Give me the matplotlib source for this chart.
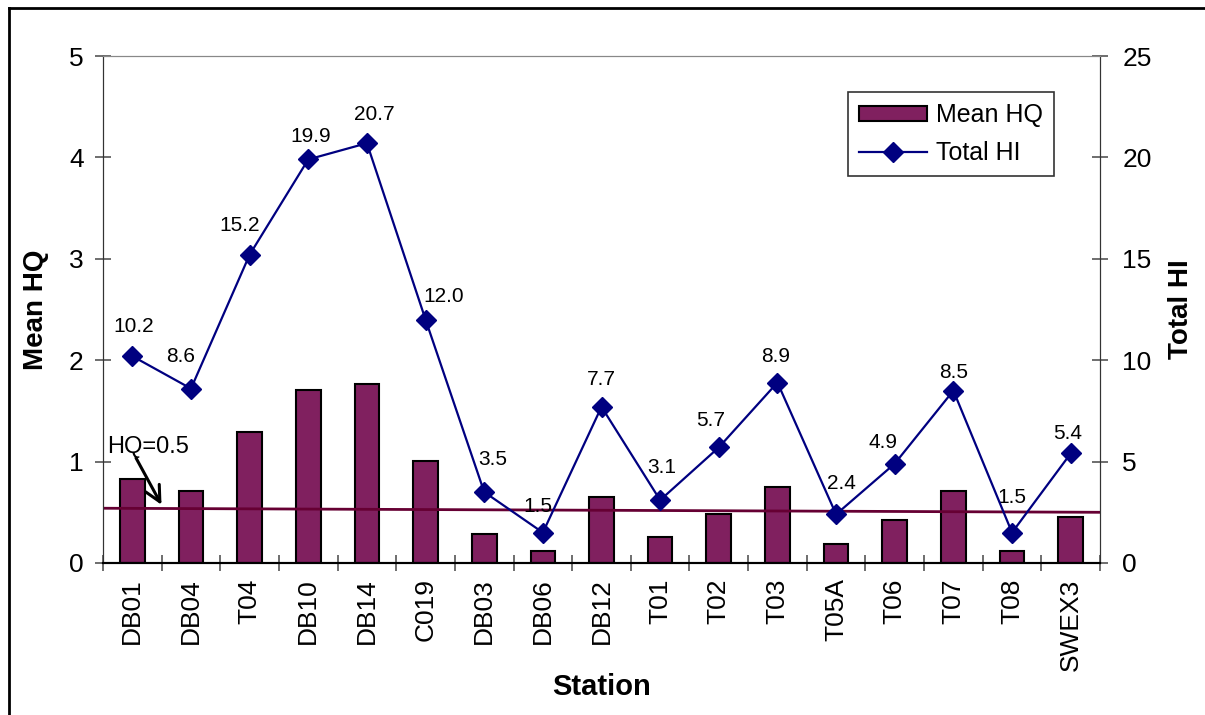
import numpy as np
import matplotlib.pyplot as plt
from matplotlib.lines import Line2D
from matplotlib.patches import Patch

plt.rcParams['font.family'] = ['Liberation Sans', 'DejaVu Sans']

# stations, mean hazard quotient (bars) and total hazard index (line)
stations = ["DB01", "DB04", "T04", "DB10", "DB14", "C019", "DB03", "DB06", "DB12",
            "T01", "T02", "T03", "T05A", "T06", "T07", "T08", "SWEX3"]
mean_hq = [0.83, 0.71, 1.29, 1.71, 1.77, 1.01, 0.29, 0.12, 0.65,
           0.26, 0.48, 0.75, 0.19, 0.42, 0.71, 0.12, 0.45]
total_hi = [10.2, 8.6, 15.2, 19.9, 20.7, 12.0, 3.5, 1.5, 7.7,
            3.1, 5.7, 8.9, 2.4, 4.9, 8.5, 1.5, 5.4]
hq_ref = [0.54, 0.50]   # reference line, left end / right end

# label nudges in pixels (dx, dy) above each marker
lbl_off = [(1, 30), (-10, 32), (-10, 29), (2, 23), (7, 29), (18, 23), (9, 33),
           (-5, 26), (0, 27), (2, 33), (-8, 27), (-2, 26), (5, 31), (-12, 21),
           (0, 18), (0, 35), (-3, 20)]

bar_col = '#80205F'
line_col = '#000080'

fig = plt.figure(figsize=(12.05, 7.15), dpi=100)
ax = fig.add_axes([103/1205, 1-563/715, 997/1205, 507/715])
ax2 = ax.twinx()

x = np.arange(len(stations))
ax.bar(x, mean_hq, width=0.42, color=bar_col, edgecolor='black', linewidth=1.5, zorder=2)
ax.plot([-0.5, len(stations)-0.5], hq_ref, color='#660033', lw=2, zorder=3)

ax2.plot(x, total_hi, color=line_col, lw=1.6, marker='D', markersize=10, zorder=4)
for i, v in enumerate(total_hi):
    ax2.annotate(f"{v:.1f}", (x[i], v), xytext=lbl_off[i], textcoords='offset pixels',
                 ha='center', va='center', fontsize=15)

ax.set_xlim(-0.5, len(stations)-0.5)
ax.set_ylim(0, 5)
ax2.set_ylim(0, 25)
ax.set_yticks(range(6))
ax2.set_yticks(range(0, 26, 5))

ax.set_xticks(x)
ax.set_xticklabels(stations, rotation=90, fontsize=19)
ax.set_xticks(np.arange(-0.5, len(stations), 1), minor=True)
ax.tick_params(axis='x', which='major', length=0, pad=11)
ax.tick_params(axis='x', which='minor', direction='inout', length=11, color='#555555', width=1.2)
ax.tick_params(axis='y', direction='inout', length=12, color='#555555', width=1.2, labelsize=19, pad=8)
ax2.tick_params(axis='y', direction='inout', length=12, color='#555555', width=1.2, labelsize=19, pad=10)

for a in (ax, ax2):
    a.spines['top'].set_color('#888888')
    a.spines['left'].set_color('#333333')
    a.spines['right'].set_color('#333333')
    a.spines['bottom'].set_color('black')
    a.spines['bottom'].set_linewidth(1.5)

ax.set_ylabel("Mean HQ", fontsize=20, fontweight='bold', labelpad=14)
ax2.set_ylabel("Total HI", fontsize=20, fontweight='bold', labelpad=12)
ax.set_xlabel("Station", fontsize=21, fontweight='bold', labelpad=2)

# HQ=0.5 callout
ax.text(-0.43, 1.14, "HQ=0.5", fontsize=17, ha='left', va='center', zorder=5)
ax.annotate('', xy=(0.52, 0.55), xytext=(0.04, 1.06),
            arrowprops=dict(arrowstyle='->', color='black', lw=2.2, mutation_scale=28), zorder=5)

handles = [Patch(facecolor=bar_col, edgecolor='black', linewidth=1.5),
           Line2D([], [], color=line_col, lw=1.6, marker='D', markersize=10)]
leg = ax2.legend(handles, ["Mean HQ", "Total HI"], loc='upper left',
                 bbox_to_anchor=(848/1205, 1-92/715), bbox_transform=fig.transFigure,
                 fontsize=18, frameon=True, fancybox=False, handlelength=2.7,
                 handleheight=0.55, borderpad=0.45, labelspacing=0.55, handletextpad=0.35,
                 borderaxespad=0)
leg.get_frame().set_edgecolor('black')
leg.get_frame().set_linewidth(1.2)

# outer chart border (left and top edges)
fig.add_artist(Line2D([9/1205, 9/1205], [0, 1-8/715], color='black', lw=2, transform=fig.transFigure))
fig.add_artist(Line2D([9/1205, 1], [1-8/715, 1-8/715], color='black', lw=2, transform=fig.transFigure))

fig.savefig("out.png", dpi=100)
